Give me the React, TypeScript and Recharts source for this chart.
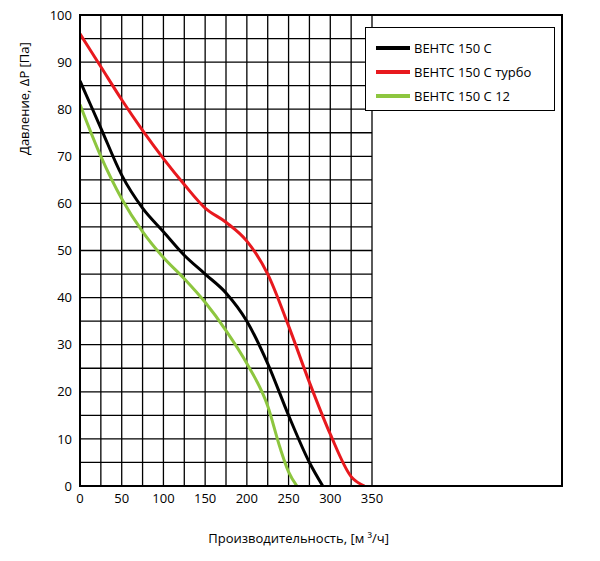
import { LineChart, Line, XAxis, YAxis, CartesianGrid, Legend } from 'recharts';

const black = [
  { x: 0, y: 86 }, { x: 25, y: 76 }, { x: 50, y: 66 }, { x: 75, y: 59 }, { x: 100, y: 54 },
  { x: 125, y: 49 }, { x: 150, y: 45 }, { x: 175, y: 41 }, { x: 200, y: 35 }, { x: 225, y: 26 },
  { x: 250, y: 15 }, { x: 275, y: 5 }, { x: 291, y: 0 },
];
const red = [
  { x: 0, y: 96 }, { x: 25, y: 89 }, { x: 50, y: 82 }, { x: 75, y: 75.5 }, { x: 100, y: 69.5 },
  { x: 125, y: 64 }, { x: 150, y: 59 }, { x: 175, y: 56 }, { x: 200, y: 52 }, { x: 225, y: 45 },
  { x: 250, y: 34 }, { x: 275, y: 22 }, { x: 300, y: 11 }, { x: 325, y: 2 }, { x: 341, y: 0 },
];
const green = [
  { x: 0, y: 81 }, { x: 25, y: 70 }, { x: 50, y: 61 }, { x: 75, y: 54 }, { x: 100, y: 48.5 },
  { x: 125, y: 44 }, { x: 150, y: 39 }, { x: 175, y: 33 }, { x: 200, y: 26 }, { x: 225, y: 17 },
  { x: 240, y: 8 }, { x: 250, y: 3 }, { x: 260, y: 0 },
];
const xTicks = [0, 25, 50, 75, 100, 125, 150, 175, 200, 225, 250, 275, 300, 325, 350];
const yTicks = [0, 5, 10, 15, 20, 25, 30, 35, 40, 45, 50, 55, 60, 65, 70, 75, 80, 85, 90, 95, 100];

// one table keyed by x, each series in its own column
const xs = Array.from(new Set([...black, ...red, ...green].map((p) => p.x))).sort((a, b) => a - b);
const table = xs.map((x) => ({
  x,
  black: black.find((p) => p.x === x)?.y ?? null,
  red: red.find((p) => p.x === x)?.y ?? null,
  green: green.find((p) => p.x === x)?.y ?? null,
}));

const font = '"Open Sans", sans-serif';

function LegendBox() {
  const items = [
    { name: 'ВЕНТС 150 С', color: '#000' },
    { name: 'ВЕНТС 150 С турбо', color: '#e8191e' },
    { name: 'ВЕНТС 150 С 12', color: '#8dc63f' },
  ];
  return (
    <div style={{ background: '#fff', border: '1.5px solid #000', width: 190, height: 84, padding: '8px 0 0 10px', boxSizing: 'border-box' }}>
      {items.map((it) => (
        <div key={it.name} style={{ display: 'flex', alignItems: 'center', height: 24, fontSize: 13 }}>
          <div style={{ width: 34, height: 4, background: it.color, marginRight: 4 }} />
          <span>{it.name}</span>
        </div>
      ))}
    </div>
  );
}

export default function App() {
  return (
    <div style={{ position: 'absolute', left: 0, top: 0, fontFamily: font }}>
      <LineChart width={600} height={561} data={table} margin={{ top: 15, right: 38, left: 0, bottom: 0 }}>
        <CartesianGrid stroke="#000" strokeWidth={1.3} />
        <XAxis
          type="number" dataKey="x" domain={[0, 350]} allowDataOverflow ticks={xTicks} height={75}
          tickFormatter={(v) => (v % 50 === 0 ? String(v) : '')}
          tickLine={false} axisLine={{ stroke: '#000', strokeWidth: 2 }}
          tick={{ fill: '#000', fontSize: 13 }}
          label={{ value: 'Производительность, [м ³/ч]', position: 'insideBottomRight', offset: 18, dx: 35, fill: '#000', fontSize: 13 }}
        />
        <YAxis
          type="number" domain={[0, 100]} allowDataOverflow ticks={yTicks} width={80}
          tickFormatter={(v) => (v % 10 === 0 ? String(v) : '')}
          tickLine={false} axisLine={{ stroke: '#000', strokeWidth: 2 }}
          tick={{ fill: '#000', fontSize: 13 }}
          label={{ value: 'Давление, ΔP [Па]', angle: -90, position: 'insideTopLeft', offset: 0, dx: 20, dy: 140, fill: '#000', fontSize: 13 }}
        />
        <Legend content={<LegendBox />} layout="vertical" align="right" verticalAlign="top" wrapperStyle={{ top: 27, right: 45 }} />
        <Line dataKey="black" type="monotone" connectNulls stroke="#000" strokeWidth={3} dot={false} isAnimationActive={false} />
        <Line dataKey="red" type="monotone" connectNulls stroke="#e8191e" strokeWidth={3} dot={false} isAnimationActive={false} />
        <Line dataKey="green" type="monotone" connectNulls stroke="#8dc63f" strokeWidth={3} dot={false} isAnimationActive={false} />
        <rect x={80} y={15} width={482} height={471} fill="none" stroke="#000" strokeWidth={2} />
      </LineChart>
    </div>
  );
}
